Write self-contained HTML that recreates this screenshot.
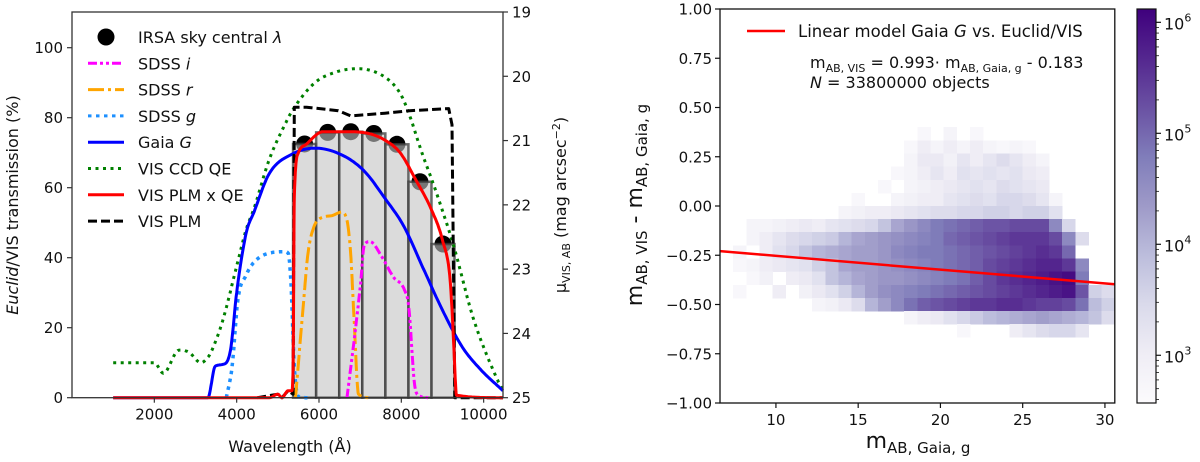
<!DOCTYPE html>
<html><head><meta charset="utf-8"><style>
html,body{margin:0;padding:0;background:#fff;}
svg{display:block;font-family:"DejaVu Sans","Liberation Sans",sans-serif;}
</style></head><body>
<svg id="fig" width="1200" height="462" viewBox="0 0 1200 462" xmlns="http://www.w3.org/2000/svg">
<g id="left"></g>
<g id="right"></g>
</svg>
<script>
// ===== Left chart data =====
const barCenters=[5650,6211,6772,7332,7893,8453,9013];
const barHeights=[72.5,75.8,76,75.5,72.4,61.7,43.9];
const barWidth=[560];
const qeLam=[1000,1500,2000,2220,2600,2840,3130,3300,3400,3660,4030,4230,4420,4790,5170,5350,5900,6400,6940,7600,7970,8160,8500,8810,9280,9740,10300,10470];
const qeVal=[10,10,10,7,13.6,13,10,11.5,13.6,22,39,48,54,68,78,82,90,93,94,91.6,87,82,70,60,43,23,6,2];
const gaiaLam=[1000,3300,3480,3660,3850,4000,4230,4420,4790,5350,5900,6510,7080,7600,8060,8530,9000,9480,9930,10470];
const gaiaVal=[0,0,9,9.5,13.6,30,47,53,64,69.6,71.3,69.6,65,57,49,37,25,14.5,8,2];
const plmqeLam=[1000,4800,5000,5100,5250,5340,5370,5400,5500,5700,6100,6640,7200,7600,7970,8340,8720,9000,9190,9280,9340,10470];
const plmqeVal=[0,0,1,0,2,2,9,57,70,72.5,76,76,75.5,73.6,70,62.5,54,45,33,13.6,0.7,0];
const plmLam=[4500,5000,5100,5250,5370,5400,5700,6470,6770,7600,8200,9150,9230,9300,10470];
const plmVal=[0,1,0,2,1,83,83,82,80.5,81.3,82,82.6,78,0,0];
const rLam=[5430,5630,5730,5870,6100,6310,6540,6680,6770,6850,6960,7240];
const rVal=[0,28,41,48.6,51.6,52,53,50.7,41,23,1,0];
const iLam=[6680,6870,7010,7100,7240,7520,7800,8080,8180,8320,8420,8650];
const iVal=[0,18,32.6,43.6,44.6,40.4,34.6,30.7,26,4,0.7,0];
const gLam=[3750,3890,4030,4230,4420,4790,5170,5250,5320,5400,5500,5720];
const gVal=[0,9,28,35,38.7,41.3,41.7,41.3,32.6,9,0.3,0];
const xTicksL=[2000,4000,6000,8000,10000];
const yTicksL=[0,20,40,60,80,100];
const yTicksR=[19,20,21,22,23,24,25];

// ===== Right chart data =====
const colLow=[6.6,7.4,8.2,9.0,9.8,10.6,11.4,12.2,13.0,13.8,14.6,15.4,16.2,17.0,17.8,18.6,19.4,20.2,21.0,21.8,22.6,23.4,24.2,25.0,25.8,26.6,27.4,28.2,29.0,29.8];
const rowTop=[0.4,0.333,0.267,0.2,0.133,0.067,0,-0.067,-0.133,-0.2,-0.267,-0.333,-0.4,-0.467,-0.533,-0.6];
const logCounts=[
[0,0,0,0,0,0,0,0,0,0,0,0,0,0,0,2.7,0,2.8,0,2.7,0,0,0,0,0,0,0,0,0,0],
[0,0,0,0,0,0,0,0,0,0,0,0,0,0,2.7,3.0,2.8,3.0,2.8,3.0,2.8,2.7,2.8,2.7,0,0,0,0,0,0],
[0,0,0,0,0,0,0,0,0,0,0,0,0,0,2.8,3.1,3.1,2.9,3.2,3.0,3.2,3.4,3.2,3.0,2.8,0,0,0,0,0],
[0,0,0,0,0,0,0,0,0,0,0,0,0,2.7,2.8,3.0,3.2,3.0,3.3,3.2,3.3,3.2,3.3,3.1,3.0,0,0,0,0,0],
[0,0,0,0,0,0,0,0,0,0,0,0,2.7,0,2.8,2.9,3.0,3.1,3.2,3.3,3.2,3.4,3.3,3.2,3.1,0,0,0,0,0],
[0,0,0,0,0,0,0,0,0,0,2.7,0,0,2.8,2.9,3.0,3.0,3.2,3.3,3.4,3.3,3.5,3.5,3.4,3.2,2.8,0,0,0,0],
[0,0,0,0,0,0,0,0,0,2.8,2.9,3.0,3.0,3.1,3.2,3.3,3.4,3.4,3.5,3.5,3.6,3.6,3.5,3.6,3.6,3.3,0,0,0,0],
[0,0,2.8,2.8,2.9,3.0,3.1,3.0,3.2,3.3,3.4,3.5,3.8,4.2,4.4,4.6,4.8,4.9,5.0,5.1,5.2,5.2,5.3,5.3,5.3,4.6,3.5,0,0,0],
[0,0,2.8,3.0,3.2,3.4,3.5,3.6,3.7,4.0,4.2,4.3,4.4,4.5,4.6,4.7,4.8,5.0,5.1,5.2,5.3,5.4,5.5,5.5,5.5,5.3,4.6,3.4,0,0],
[0,2.8,0,3.0,3.3,3.5,3.8,4.0,4.1,4.2,4.3,4.3,4.4,4.6,4.7,4.8,4.8,4.9,5.0,5.1,5.2,5.3,5.4,5.5,5.6,5.5,5.0,0,0,0],
[0,2.7,2.8,3.0,3.1,3.2,3.3,3.6,3.8,4.2,4.3,4.3,4.4,4.5,4.6,4.7,4.8,4.9,5.0,5.1,5.3,5.4,5.5,5.6,5.7,5.7,5.5,4.6,0,0],
[0,0,2.7,2.9,0,3.0,3.1,3.3,3.8,4.0,4.2,4.3,4.4,4.4,4.5,4.6,4.7,4.8,4.9,5.1,5.3,5.5,5.6,5.7,5.8,5.9,6.0,4.8,0,0],
[0,2.7,0,0,3.0,0,2.9,3.1,3.3,3.6,4.0,4.3,4.5,4.6,4.7,4.8,4.9,5.0,5.1,5.2,5.3,5.4,5.5,5.6,5.7,5.8,5.9,5.2,3.6,3.4],
[0,0,0,0,0,0,0,2.8,2.9,3.1,3.4,4.0,4.3,4.6,4.9,5.1,5.2,5.3,5.4,5.5,5.5,5.6,5.6,5.5,5.4,5.4,5.3,4.9,3.9,3.6],
[0,0,0,0,0,0,0,0,0,0,0,0,0,0,2.8,3.0,3.1,3.3,3.5,3.7,3.9,4.0,4.1,4.2,4.3,4.2,4.1,4.0,3.8,3.4],
[0,0,0,0,0,0,0,0,0,0,0,0,0,0,0,0,0,0,2.7,0,0,0,3.0,3.2,3.4,3.5,3.5,3.2,0,0]
];
const fitCoef=[-0.007,-0.183];
const xTicksR=[10,15,20,25,30];
const yTicksRight=[1.00,0.75,0.50,0.25,0.00,-0.25,-0.50,-0.75,-1.00];
const cbTicks=[3,4,5,6];

const NS='http://www.w3.org/2000/svg';
function mk(parent,tag,attrs){const e=document.createElementNS(NS,tag);for(const k in attrs)e.setAttribute(k,attrs[k]);parent.appendChild(e);return e;}
function txt(parent,x,y,s,attrs){const t=mk(parent,'text',Object.assign({x:x,y:y},attrs||{}));t.innerHTML=s;return t;}

// ===== Left chart =====
const L=document.getElementById('left');
const lx0=72,lx1=503,ly0=12,ly1=397.7;
const lamMin=0,lamMax=10470,vMax=(ly1-ly0)/3.5;
const X=l=>lx0+(l-lamMin)/(lamMax-lamMin)*(lx1-lx0);
const Y=v=>ly1-v/vMax*(ly1-ly0);
const YR=m=>ly0+(m-19)/6*(ly1-ly0);

const dotsG=mk(L,'g',{});


barCenters.forEach((c,i)=>{const d=mk(dotsG,'circle',{cx:X(c),cy:Y(barHeights[i]),r:8.5,fill:'#000'});

});
const barsG=mk(L,'g',{});


barCenters.forEach((c,i)=>{const xa=X(c-barWidth[0]/2),xb=X(c+barWidth[0]/2);
const r=mk(barsG,'rect',{x:xa,y:Y(barHeights[i]),width:xb-xa,height:Y(0)-Y(barHeights[i]),fill:'rgba(195,195,195,0.6)',stroke:'rgba(60,60,60,0.75)','stroke-width':2.5});

});

// monotone cubic interpolation (Fritsch-Carlson) for smooth curves
function smoothPts(xs,ys){
  const n=xs.length;if(n<3)return xs.map((x,i)=>[x,ys[i]]);
  const d=[],m=new Array(n);
  for(let i=0;i<n-1;i++)d.push((ys[i+1]-ys[i])/(xs[i+1]-xs[i]));
  m[0]=d[0];m[n-1]=d[n-2];
  for(let i=1;i<n-1;i++){m[i]=(d[i-1]*d[i]<=0)?0:(d[i-1]+d[i])/2;}
  for(let i=0;i<n-1;i++){if(d[i]===0){m[i]=0;m[i+1]=0;continue;}
    const a=m[i]/d[i],b=m[i+1]/d[i],s=a*a+b*b;if(s>9){const t=3/Math.sqrt(s);m[i]=t*a*d[i];m[i+1]=t*b*d[i];}}
  const out=[];
  for(let i=0;i<n-1;i++){const h=xs[i+1]-xs[i];
    for(let k=0;k<12;k++){const t=k/12,t2=t*t,t3=t2*t;
      const y=(2*t3-3*t2+1)*ys[i]+(t3-2*t2+t)*h*m[i]+(-2*t3+3*t2)*ys[i+1]+(t3-t2)*h*m[i+1];
      out.push([xs[i]+t*h,y]);}}
  out.push([xs[n-1],ys[n-1]]);return out;
}
function curve(lams,vals,color,dash,w,name,smooth){
  const pts=smooth?smoothPts(lams,vals):lams.map((l,i)=>[l,vals[i]]);
  const p=mk(L,'polyline',{points:pts.map(q=>X(q[0]).toFixed(1)+','+Y(q[1]).toFixed(1)).join(' '),fill:'none',stroke:color,'stroke-width':w,'stroke-dasharray':dash||'none','stroke-linejoin':'round'});
  
  
}
curve(qeLam,qeVal,'#008000','3 4.5',3,'vis-ccd-qe-line',true);
curve(gLam,gVal,'#1e90ff','3.5 4.5',3.5,'sdss-g-line',true);
curve(rLam,rVal,'#ffa500','16 4 3 4',3,'sdss-r-line',true);
curve(iLam,iVal,'#ff00ff','9 3 3 3 3 3',3,'sdss-i-line',true);
curve(gaiaLam,gaiaVal,'#0000ff','',3,'gaia-g-line',true);
curve(plmLam,plmVal,'#000','9 4',3,'vis-plm-line',false);
curve(plmqeLam,plmqeVal,'#ff0000','',3,'vis-plm-qe-line',true);

const lf=mk(L,'rect',{x:lx0,y:ly0,width:lx1-lx0,height:ly1-ly0,fill:'none',stroke:'#333','stroke-width':1.3});


const ts={'font-size':15,fill:'#111'};
xTicksL.forEach(t=>{mk(L,'line',{x1:X(t),x2:X(t),y1:ly1,y2:ly1+5,stroke:'#333','stroke-width':1.2});
const e=txt(L,X(t),ly1+22,t,Object.assign({'text-anchor':'middle'},ts));});
yTicksL.forEach(t=>{mk(L,'line',{x1:lx0-5,x2:lx0,y1:Y(t),y2:Y(t),stroke:'#333','stroke-width':1.2});
const e=txt(L,lx0-9,Y(t)+5.5,t,Object.assign({'text-anchor':'end'},ts));});
yTicksR.forEach(t=>{mk(L,'line',{x1:lx1,x2:lx1+5,y1:YR(t),y2:YR(t),stroke:'#333','stroke-width':1.2});
const e=txt(L,lx1+9,YR(t)+5.5,t,Object.assign({'text-anchor':'start'},ts));});
let e=txt(L,290,452,'Wavelength (Å)',{'text-anchor':'middle','font-size':16,fill:'#111'});

e=txt(L,0,0,'<tspan font-style="italic">Euclid</tspan>/VIS transmission (%)',{'text-anchor':'middle','font-size':16,fill:'#111',transform:'translate(18,205) rotate(-90)'});

e=txt(L,0,0,'μ<tspan font-size="11" dy="4">VIS, AB</tspan><tspan dy="-4"> (mag arcsec</tspan><tspan font-size="11" dy="-6">−2</tspan><tspan dy="6">)</tspan>',{'text-anchor':'middle','font-size':16,fill:'#111',transform:'translate(566,205) rotate(-90)'});


const leg=mk(L,'g',{});


const legItems=[['IRSA sky central <tspan font-style="italic">λ</tspan>','dot'],['SDSS <tspan font-style="italic">i</tspan>','#ff00ff','9 3 3 3 3 3'],['SDSS <tspan font-style="italic">r</tspan>','#ffa500','16 4 3 4'],['SDSS <tspan font-style="italic">g</tspan>','#1e90ff','3.5 4.5'],['Gaia <tspan font-style="italic">G</tspan>','#0000ff',''],['VIS CCD QE','#008000','3 4.5'],['VIS PLM x QE','#ff0000',''],['VIS PLM','#000','9 4']];
legItems.forEach((it,i)=>{const y=37+i*26.3;
 if(it[1]==='dot'){mk(leg,'circle',{cx:106,cy:y,r:8.5,fill:'#000'});}
 else mk(leg,'line',{x1:88,x2:124,y1:y,y2:y,stroke:it[1],'stroke-width':3,'stroke-dasharray':it[2]||'none'});
 const t=txt(leg,138,y+6,it[0],{'font-size':16,fill:'#111'});
 
 
});

// ===== Right chart =====
const R=document.getElementById('right');
const rx0=720,rx1=1114.8,ry0=9,ry1=403;
const xMin=6.6,xMax=30.6;
const XR=v=>rx0+(v-xMin)/(xMax-xMin)*(rx1-rx0);
const YY=v=>ry0+(1-v)/2*(ry1-ry0);
const cmapStops=[[252,251,253],[239,237,245],[218,218,235],[188,189,220],[158,154,200],[128,125,186],[106,81,163],[84,39,143],[63,0,125]];
const cMin=2.57,cMax=6.12;
function cmap(f){f=Math.max(0,Math.min(1,f));const s=f*8,i=Math.min(7,Math.floor(s)),t=s-i;const a=cmapStops[i],b=cmapStops[i+1];return 'rgb('+a.map((v,k)=>Math.round(v+(b[k]-v)*t)).join(',')+')';}
const heat=mk(R,'g',{'shape-rendering':'crispEdges'});


const binW=colLow[1]-colLow[0],binH=rowTop[0]-rowTop[1];
logCounts.forEach((row,ri)=>row.forEach((v,ci)=>{if(!v)return;
 const xa=XR(colLow[ci]),xb=XR(colLow[ci]+binW),ya=YY(rowTop[ri]),yb=YY(rowTop[ri]-binH);
 const c=mk(heat,'rect',{x:xa.toFixed(2),y:ya.toFixed(2),width:(xb-xa+0.3).toFixed(2),height:(yb-ya+0.3).toFixed(2),fill:cmap((v-cMin)/(cMax-cMin))});
 
 
}));
const fl=mk(R,'line',{x1:XR(xMin),y1:YY(fitCoef[0]*xMin+fitCoef[1]),x2:XR(xMax),y2:YY(fitCoef[0]*xMax+fitCoef[1]),stroke:'#ff0000','stroke-width':2.5});


const rf=mk(R,'rect',{x:rx0,y:ry0,width:rx1-rx0,height:ry1-ry0,fill:'none',stroke:'#111','stroke-width':1.3});


xTicksR.forEach(t=>{mk(R,'line',{x1:XR(t),x2:XR(t),y1:ry1,y2:ry1+5,stroke:'#111','stroke-width':1.2});
const e=txt(R,XR(t),ry1+22,t,Object.assign({'text-anchor':'middle'},ts));});
yTicksRight.forEach(t=>{mk(R,'line',{x1:rx0-5,x2:rx0,y1:YY(t),y2:YY(t),stroke:'#111','stroke-width':1.2});
const s=(t<0?'−':'')+Math.abs(t).toFixed(2);
const e=txt(R,rx0-8,YY(t)+5.5,s,Object.assign({'text-anchor':'end'},ts));});
e=txt(R,918,448,'m<tspan font-size="15" dy="5">AB, Gaia, g</tspan>',{'text-anchor':'middle','font-size':22,fill:'#111'});

e=txt(R,0,0,'m<tspan font-size="15" dy="5">AB, VIS</tspan><tspan dy="-5"> - m</tspan><tspan font-size="15" dy="5">AB, Gaia, g</tspan>',{'text-anchor':'middle','font-size':22,fill:'#111',transform:'translate(642,205) rotate(-90)'});

const rl=mk(R,'g',{});


mk(rl,'line',{x1:747,x2:785,y1:31,y2:31,stroke:'#ff0000','stroke-width':2.5});
e=txt(rl,798,37,'Linear model Gaia <tspan font-style="italic">G</tspan> vs. Euclid/VIS',{'font-size':16.5,fill:'#111'});

e=txt(R,810,68,'m<tspan font-size="11" dy="4">AB, VIS</tspan><tspan dy="-4"> = 0.993· m</tspan><tspan font-size="11" dy="4">AB, Gaia, g</tspan><tspan dy="-4"> - 0.183</tspan>',{'font-size':16,fill:'#111'});

e=txt(R,810,88,'<tspan font-style="italic">N</tspan> = 33800000 objects',{'font-size':16,fill:'#111'});


const cb=mk(R,'g',{});


const cbx=1137,cbw=19,cby0=9,cby1=403;
const defs=mk(cb,'defs',{});
const lg=mk(defs,'linearGradient',{id:'cbg',x1:0,y1:1,x2:0,y2:0});
cmapStops.forEach((s,i)=>mk(lg,'stop',{offset:(i/8),'stop-color':'rgb('+s.join(',')+')'}));
mk(cb,'rect',{x:cbx,y:cby0,width:cbw,height:cby1-cby0,fill:'url(#cbg)',stroke:'#111','stroke-width':1.2});
const CY=v=>cby1-(v-cMin)/(cMax-cMin)*(cby1-cby0);
cbTicks.forEach(t=>{mk(cb,'line',{x1:cbx+cbw,x2:cbx+cbw+5,y1:CY(t),y2:CY(t),stroke:'#111','stroke-width':1.2});
for(let k=2;k<10;k++){const yv=t+Math.log10(k);if(yv<=cMax&&yv>=cMin)mk(cb,'line',{x1:cbx+cbw,x2:cbx+cbw+3,y1:CY(yv),y2:CY(yv),stroke:'#111','stroke-width':0.8});}
const e=txt(cb,cbx+cbw+8,CY(t)+7,'10<tspan font-size="11" dy="-8">'+t+'</tspan>',{'font-size':16,fill:'#111'});
});
[2+Math.log10(4),2+Math.log10(5),2+Math.log10(6),2+Math.log10(7),2+Math.log10(8),2+Math.log10(9)].forEach(yv=>{if(yv>=cMin)mk(cb,'line',{x1:cbx+cbw,x2:cbx+cbw+3,y1:CY(yv),y2:CY(yv),stroke:'#111','stroke-width':0.8});});
</script>
</body></html>
